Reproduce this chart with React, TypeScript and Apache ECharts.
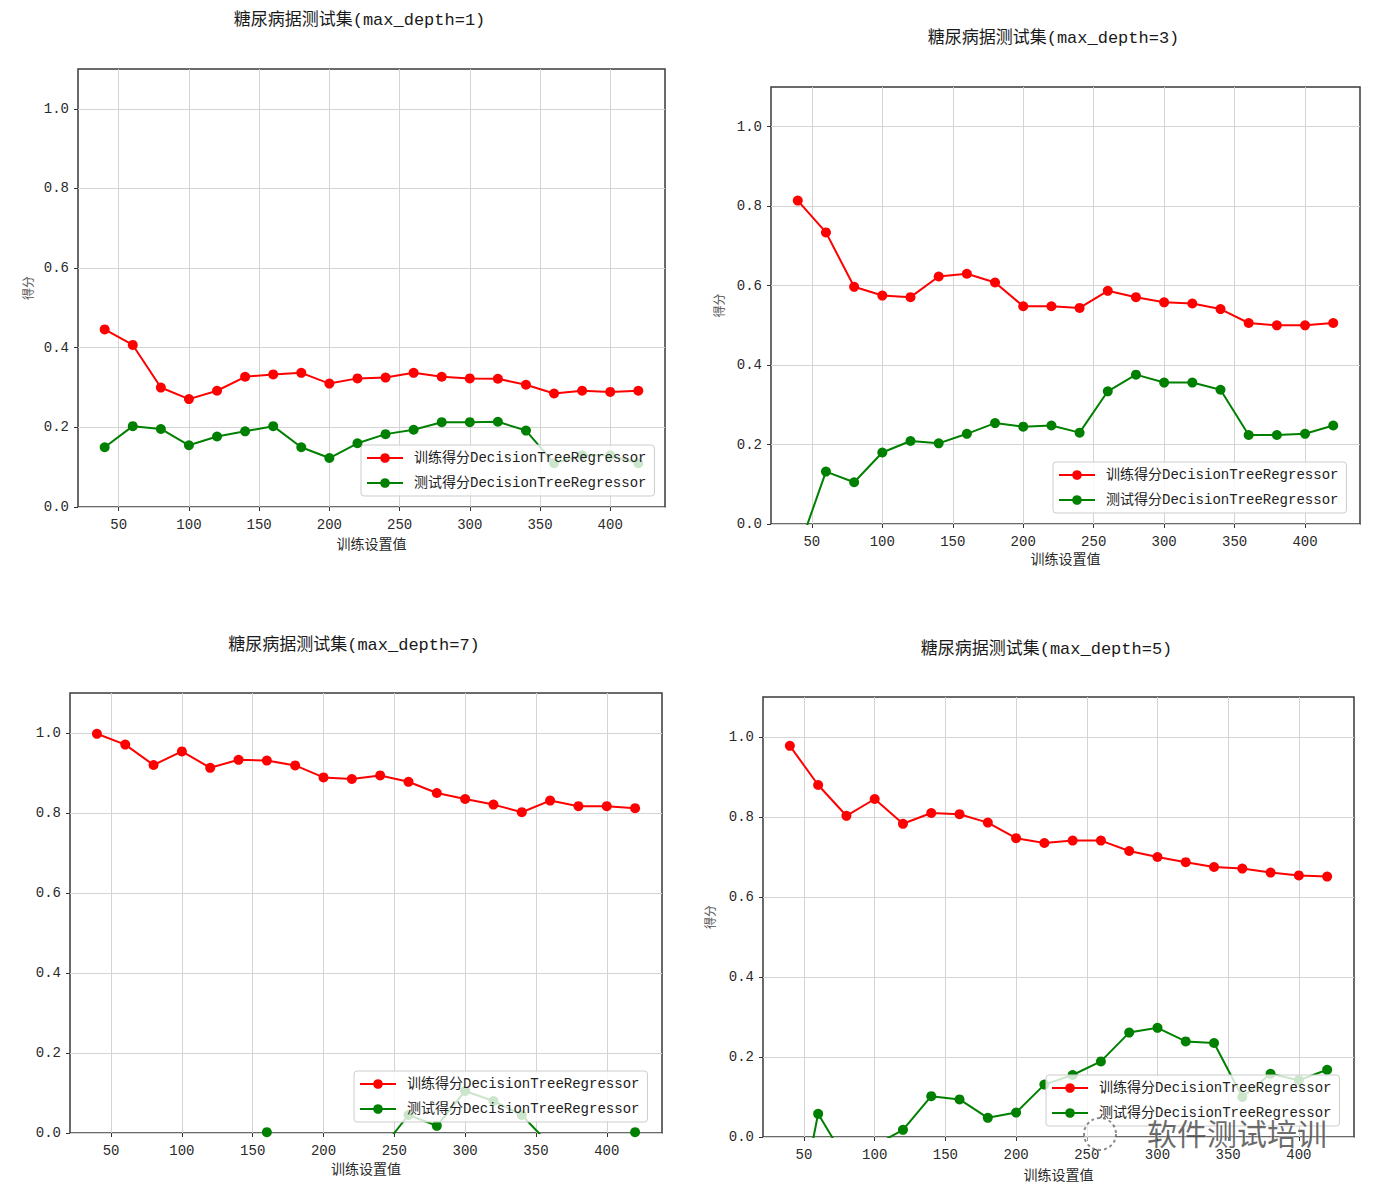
import React, { useEffect, useRef } from 'react';
import * as echarts from 'echarts';

// ---------- data ----------
const XS = [40, 60, 80, 100, 120, 140, 160, 180, 200, 220, 240, 260, 280, 300, 320, 340, 360, 380, 400, 420];
const X_TICKS = [50, 100, 150, 200, 250, 300, 350, 400];
const Y_TICKS = [0, 0.2, 0.4, 0.6, 0.8, 1.0];

const TRAIN_NAME = '训练得分DecisionTreeRegressor';
const TEST_NAME = '测试得分DecisionTreeRegressor';
const X_LABEL = '训练设置值';
const Y_LABEL = '得分';

const TITLE_D1 = '糖尿病据测试集(max_depth=1)';
const TITLE_D3 = '糖尿病据测试集(max_depth=3)';
const TITLE_D7 = '糖尿病据测试集(max_depth=7)';
const TITLE_D5 = '糖尿病据测试集(max_depth=5)';

const D1_TRAIN = [0.446, 0.407, 0.300, 0.271, 0.292, 0.327, 0.333, 0.337, 0.310, 0.323, 0.325, 0.337, 0.327, 0.323, 0.322, 0.307, 0.285, 0.292, 0.289, 0.292];
const D1_TEST = [0.150, 0.203, 0.196, 0.155, 0.177, 0.190, 0.203, 0.150, 0.123, 0.160, 0.183, 0.194, 0.213, 0.213, 0.214, 0.192, 0.110, 0.130, 0.130, 0.110];

const D3_TRAIN = [0.814, 0.734, 0.597, 0.575, 0.571, 0.623, 0.630, 0.608, 0.548, 0.548, 0.544, 0.587, 0.571, 0.558, 0.555, 0.541, 0.506, 0.500, 0.500, 0.506];
const D3_TEST = [-0.070, 0.132, 0.105, 0.180, 0.209, 0.203, 0.227, 0.254, 0.245, 0.248, 0.230, 0.334, 0.376, 0.356, 0.356, 0.338, 0.224, 0.224, 0.227, 0.248];

const D7_TRAIN = [0.998, 0.971, 0.920, 0.954, 0.913, 0.933, 0.931, 0.919, 0.889, 0.885, 0.894, 0.878, 0.850, 0.835, 0.821, 0.802, 0.831, 0.817, 0.817, 0.812];
const D7_TEST = [-0.350, -0.280, -0.220, -0.180, -0.120, -0.060, 0.002, -0.060, -0.120, -0.090, -0.045, 0.045, 0.018, 0.105, 0.080, 0.045, -0.030, -0.080, -0.050, 0.002];

const D5_TRAIN = [0.978, 0.880, 0.803, 0.845, 0.783, 0.810, 0.807, 0.786, 0.747, 0.735, 0.741, 0.741, 0.715, 0.700, 0.687, 0.675, 0.671, 0.661, 0.654, 0.651];
const D5_TEST = [-0.300, 0.058, -0.060, -0.021, 0.018, 0.102, 0.094, 0.048, 0.061, 0.131, 0.155, 0.189, 0.261, 0.273, 0.239, 0.235, 0.100, 0.158, 0.142, 0.168];

const WATERMARK = '软件测试培训';

// ---------- layout / style ----------
const FONT = "'Liberation Mono', 'Noto Sans CJK SC', monospace";
const RED = '#ff0000';
const GREEN = '#008000';

const PANELS = [
  { title: TITLE_D1, train: D1_TRAIN, test: D1_TEST, grid: { left: 78, top: 69, width: 587, height: 438 }, titleY: 20, xlabelY: 545, ylabelX: 30, legend: { left: 361, top: 445 } },
  { title: TITLE_D3, train: D3_TRAIN, test: D3_TEST, grid: { left: 771, top: 87, width: 589, height: 437 }, titleY: 38, xlabelY: 560, ylabelX: 721, legend: { left: 1053, top: 462 } },
  { title: TITLE_D7, train: D7_TRAIN, test: D7_TEST, grid: { left: 70, top: 693, width: 592, height: 440 }, titleY: 645, xlabelY: 1170, ylabelX: null, legend: { left: 354, top: 1071 } },
  { title: TITLE_D5, train: D5_TRAIN, test: D5_TEST, grid: { left: 763, top: 697, width: 591, height: 440 }, titleY: 649, xlabelY: 1176, ylabelX: 712, legend: { left: 1046, top: 1075 } },
];

function buildOption() {
  const grid: any[] = [];
  const xAxis: any[] = [];
  const yAxis: any[] = [];
  const legend: any[] = [];
  const series: any[] = [];
  const graphic: any[] = [];

  PANELS.forEach((p, i) => {
    grid.push({
      ...p.grid,
      show: true,
      borderColor: '#3a3a3a',
      borderWidth: 1.5,
      backgroundColor: 'transparent',
      containLabel: false,
    });
    xAxis.push({
      type: 'value',
      gridIndex: i,
      min: 21,
      max: 439,
      axisLine: { show: false, onZero: false },
      axisTick: { show: true, customValues: X_TICKS, length: 4, lineStyle: { color: '#333' } },
      axisLabel: { customValues: X_TICKS, margin: 11, fontSize: 14, color: '#2a2a2a', fontFamily: FONT },
      splitLine: { show: true, lineStyle: { color: '#d4d4d4', width: 1 } },
    });
    yAxis.push({
      type: 'value',
      gridIndex: i,
      min: 0,
      max: 1.1,
      axisLine: { show: false, onZero: false },
      axisTick: { show: true, customValues: Y_TICKS, length: 4, lineStyle: { color: '#333' } },
      axisLabel: {
        customValues: Y_TICKS,
        margin: 9,
        fontSize: 14,
        color: '#2a2a2a',
        fontFamily: FONT,
        formatter: (v: number) => v.toFixed(1),
      },
      splitLine: { show: true, lineStyle: { color: '#d4d4d4', width: 1 } },
    });
    legend.push({
      show: true,
      orient: 'vertical',
      left: p.legend.left,
      top: p.legend.top,
      data: [TRAIN_NAME, TEST_NAME],
      itemWidth: 36,
      itemHeight: 12,
      itemGap: 11,
      backgroundColor: 'rgba(255,255,255,0.8)',
      borderColor: '#cccccc',
      borderWidth: 1,
      borderRadius: 3,
      padding: [6, 8, 6, 5],
      selectedMode: false,
      textStyle: { fontFamily: FONT, fontSize: 14, color: '#222', padding: [0, 0, 0, 6] },
    });
    const mk = (name: string, vals: number[], color: string) => ({
      type: 'line',
      name,
      xAxisIndex: i,
      yAxisIndex: i,
      data: XS.map((x, j) => [x, vals[j]]),
      symbol: 'circle',
      symbolSize: 10,
      showAllSymbol: true,
      clip: true,
      lineStyle: { width: 2, color },
      itemStyle: { color },
      emphasis: { disabled: true },
      z: 2,
    });
    series.push(mk(TRAIN_NAME, p.train, RED));
    series.push(mk(TEST_NAME, p.test, GREEN));

    const cx = p.grid.left + p.grid.width / 2;
    graphic.push({
      type: 'text',
      x: cx - 12,
      y: p.titleY,
      style: {
        text: p.title,
        fontSize: 17,
        fontFamily: FONT,
        fill: '#1a1a1a',
        textAlign: 'center',
        textVerticalAlign: 'middle',
      },
    });
    graphic.push({
      type: 'text',
      x: cx,
      y: p.xlabelY,
      style: {
        text: X_LABEL,
        fontSize: 14,
        fontFamily: FONT,
        fill: '#2a2a2a',
        textAlign: 'center',
        textVerticalAlign: 'middle',
      },
    });
    if (p.ylabelX !== null) {
      graphic.push({
        type: 'text',
        x: p.ylabelX,
        y: p.grid.top + p.grid.height / 2,
        rotation: Math.PI / 2,
        style: {
          text: Y_LABEL,
          fontSize: 12,
          fontFamily: FONT,
          fill: '#555',
          textAlign: 'center',
          textVerticalAlign: 'middle',
        },
      });
    }
  });

  // watermark
  graphic.push({
    type: 'circle',
    shape: { cx: 1100, cy: 1134, r: 16 },
    style: { fill: 'rgba(255,255,255,0.5)', stroke: 'rgba(90,90,90,0.7)', lineWidth: 2, lineDash: [3, 3] },
    z: 100,
  });
  graphic.push({
    type: 'text',
    x: 1237,
    y: 1132,
    z: 100,
    style: {
      text: WATERMARK,
      fontSize: 30,
      fontFamily: "'Noto Sans CJK SC'",
      fill: 'rgba(60,60,60,0.75)',
      stroke: 'rgba(255,255,255,0.6)',
      lineWidth: 1,
      textAlign: 'center',
      textVerticalAlign: 'middle',
    },
  });

  return {
    animation: false,
    backgroundColor: '#ffffff',
    grid,
    xAxis,
    yAxis,
    legend,
    series,
    graphic,
  };
}

export default function App() {
  const ref = useRef<HTMLDivElement>(null);
  useEffect(() => {
    if (!ref.current) return;
    const chart = echarts.init(ref.current, undefined, { renderer: 'svg' });
    chart.setOption(buildOption() as any);
    return () => chart.dispose();
  }, []);
  return (
    <div
      ref={ref}
      style={{ position: 'absolute', left: 0, top: 0, width: 1400, height: 1196, background: '#fff' }}
    />
  );
}
